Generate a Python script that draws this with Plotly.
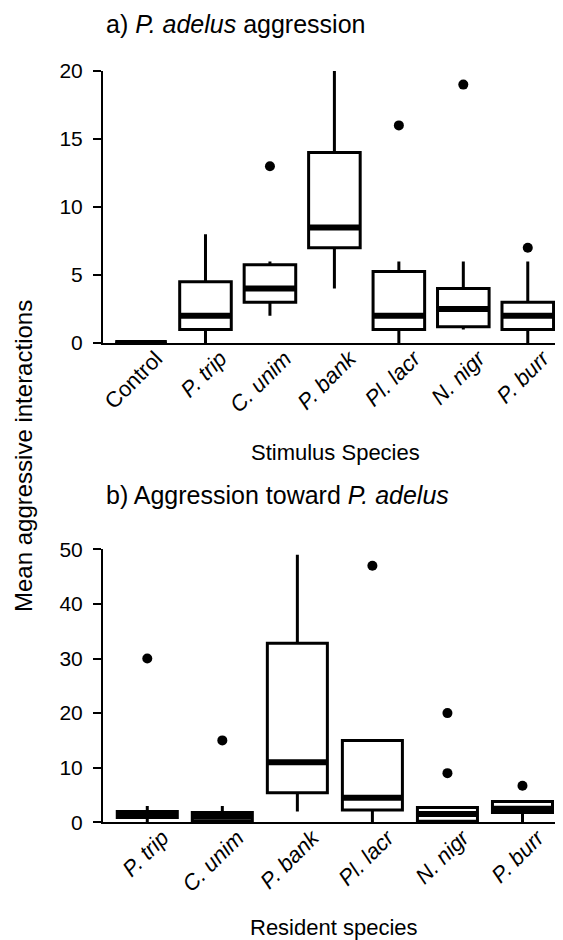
import plotly.graph_objects as go

# ---------- data ----------
cats_a = ["Control", "<i>P. trip</i>", "<i>C. unim</i>", "<i>P. bank</i>",
          "<i>Pl. lacr</i>", "<i>N. nigr</i>", "<i>P. burr</i>"]
lf_a = [0, 0, 2, 4, 0, 1, 0]
q1_a = [0, 1, 3, 7, 1, 1.2, 1]
med_a = [0, 2, 4, 8.5, 2, 2.5, 2]
q3_a = [0, 4.5, 5.75, 14, 5.25, 4, 3]
uf_a = [0, 8, 6, 20, 6, 6, 6]
out_cat_a = [2, 4, 5, 6]
out_val_a = [13, 16, 19, 7]

cats_b = ["<i>P. trip</i>", "<i>C. unim</i>", "<i>P. bank</i>",
          "<i>Pl. lacr</i>", "<i>N. nigr</i>", "<i>P. burr</i>"]
lf_b = [0, 0, 2, 0, 0, 0]
q1_b = [0.9, 0.2, 5.4, 2.25, 0.2, 1.8]
med_b = [1.5, 1.0, 11, 4.5, 1.5, 2.5]
q3_b = [2.0, 1.8, 32.8, 15, 2.7, 3.8]
uf_b = [3, 3, 49, 15, 2.7, 3.8]
out_cat_b = [0, 1, 3, 4, 4, 5]
out_val_b = [30, 15, 47, 20, 9, 6.7]

BOXW = 0.8
FONT = "Arial, Liberation Sans, sans-serif"

# page body has an 8px margin; lay out in reference pixel coordinates
OFF = 8
W, H = 563 - OFF, 940 - OFF


def px(x):
    return (x - OFF) / W


def py(y):
    return 1 - (y - OFF) / H


fig = go.Figure()


def add_panel(cats, lf, q1, med, q3, uf, oc, ov, xa, ya):
    xs = list(range(len(cats)))
    fig.add_trace(go.Box(
        x=xs, q1=q1, median=med, q3=q3, lowerfence=lf, upperfence=uf,
        width=BOXW, whiskerwidth=0, fillcolor="white",
        line=dict(color="black", width=3), boxpoints=False,
        showlegend=False, xaxis=xa, yaxis=ya, hoverinfo="skip"))
    mx, my = [], []
    for i, m in zip(xs, med):
        mx += [i - BOXW / 2, i + BOXW / 2, None]
        my += [m, m, None]
    fig.add_trace(go.Scatter(
        x=mx, y=my, mode="lines", line=dict(color="black", width=6),
        showlegend=False, xaxis=xa, yaxis=ya, hoverinfo="skip"))
    fig.add_trace(go.Scatter(
        x=oc, y=ov, mode="markers", marker=dict(color="black", size=10),
        cliponaxis=False, showlegend=False, xaxis=xa, yaxis=ya,
        hoverinfo="skip"))


add_panel(cats_a, lf_a, q1_a, med_a, q3_a, uf_a, out_cat_a, out_val_a, "x", "y")
add_panel(cats_b, lf_b, q1_b, med_b, q3_b, uf_b, out_cat_b, out_val_b, "x2", "y2")

xdom = [px(103), px(560)]

xcommon = dict(showline=True, linecolor="black", linewidth=2, ticks="",
               showgrid=False, zeroline=False, tickangle=-45,
               tickfont=dict(family=FONT, size=22, color="black"),
               ticklabelshift=15, ticklabelstandoff=-8,
               automargin=False, tickmode="array")
ycommon = dict(showline=True, linecolor="black", linewidth=2, ticks="outside",
               ticklen=8, tickwidth=2, tickcolor="black", showgrid=False,
               ticklabelstandoff=6,
               zeroline=False, tickfont=dict(family=FONT, size=21, color="black"),
               automargin=False)

fig.update_layout(
    width=W, height=H,
    margin=dict(l=0, r=0, t=0, b=0, pad=0),
    plot_bgcolor="white", paper_bgcolor="white",
    xaxis=dict(domain=xdom, anchor="y", range=[-0.59, 6.5],
               tickvals=list(range(len(cats_a))), ticktext=cats_a, **xcommon),
    yaxis=dict(domain=[py(343), py(71)], anchor="x", range=[0, 20],
               tickvals=[0, 5, 10, 15, 20], **ycommon),
    xaxis2=dict(domain=xdom, anchor="y2", range=[-0.59, 5.5],
                tickvals=list(range(len(cats_b))), ticktext=cats_b, **xcommon),
    yaxis2=dict(domain=[py(822.3), py(549.3)], anchor="x2", range=[0, 50],
                tickvals=[0, 10, 20, 30, 40, 50], **ycommon),
    annotations=[
        dict(text="a) <i>P. adelus</i> aggression", x=px(104), y=py(24),
             xref="paper", yref="paper", xanchor="left", yanchor="middle",
             showarrow=False, font=dict(family=FONT, size=25, color="black")),
        dict(text="b) Aggression toward <i>P. adelus</i>", x=px(104), y=py(495),
             xref="paper", yref="paper", xanchor="left", yanchor="middle",
             showarrow=False, font=dict(family=FONT, size=25, color="black")),
        dict(text="Stimulus Species", x=px(335), y=py(452),
             xref="paper", yref="paper", xanchor="center", yanchor="middle",
             showarrow=False, font=dict(family=FONT, size=22, color="black")),
        dict(text="Resident species", x=px(334), y=py(927),
             xref="paper", yref="paper", xanchor="center", yanchor="middle",
             showarrow=False, font=dict(family=FONT, size=22, color="black")),
        dict(text="Mean aggressive interactions", x=px(24), y=py(456),
             xref="paper", yref="paper", xanchor="center", yanchor="middle",
             textangle=-90, showarrow=False,
             font=dict(family=FONT, size=24, color="black")),
    ],
)

fig.write_html("out.html")
